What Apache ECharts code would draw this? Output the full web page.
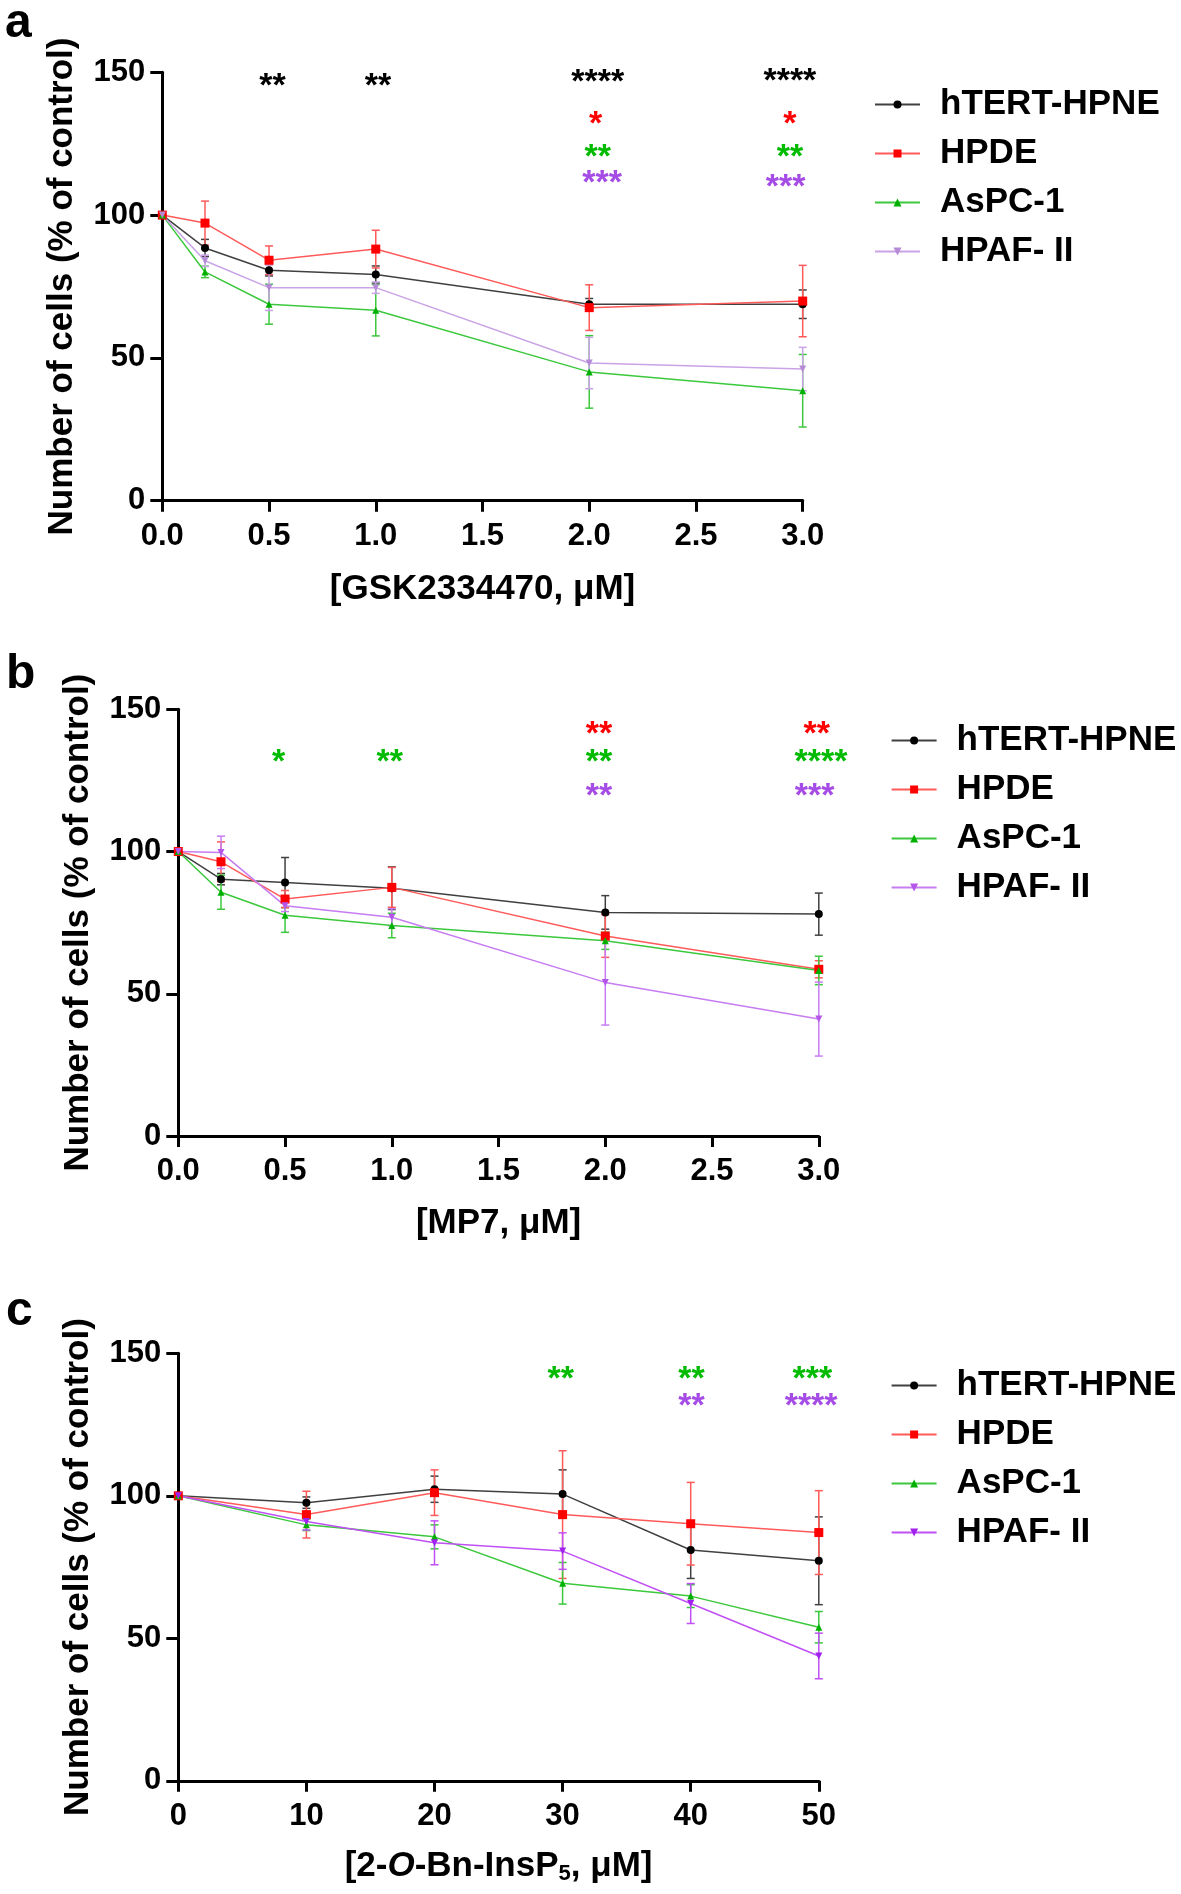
<!DOCTYPE html>
<html>
<head>
<meta charset="utf-8">
<script src="https://cdn.jsdelivr.net/npm/echarts@6/dist/echarts.min.js"></script>
<style>
html,body{margin:0;padding:0;background:#fff;}
#wrap{position:relative;width:1181px;height:1894px;}
.panel{position:absolute;left:0;width:1181px;}
</style>
</head>
<body>
<div id="wrap">
  <div id="pa" class="panel" style="top:0;height:620px"></div>
  <div id="pb" class="panel" style="top:620px;height:640px"></div>
  <div id="pc" class="panel" style="top:1260px;height:634px"></div>
</div>
<script>
// ---------- DATA ----------
const seriesNames = ['hTERT-HPNE', 'HPDE', 'AsPC-1', 'HPAF- II'];

// Panel a : GSK2334470
const xA = [0, 0.2, 0.5, 1, 2, 3];
const a_hTERT = [100, 88.5, 80.7, 79.2, 68.8, 68.8];
const a_hTERT_err = [0, 3, 2, 3, 2, 5];
const a_HPDE = [100, 97.2, 84.2, 88.1, 67.6, 69.9];
const a_HPDE_err = [0, 7.7, 5, 6.6, 8, 12.5];
const a_AsPC = [100, 80.1, 68.8, 66.7, 45.1, 38.5];
const a_AsPC_err = [0, 2, 7, 9, 12.7, 12.7];
const a_HPAF = [100, 84, 74.6, 74.6, 48.2, 46.1];
const a_HPAF_err = [0, 2, 8, 2, 9, 7.6];
const a_stars = [
  [0.516, 148, '**', 'k'], [1.01, 148, '**', 'k'], [2.04, 149.5, '****', 'k'], [2.94, 150, '****', 'k'],
  [2.03, 134.7, '*', 'r'], [2.94, 135, '*', 'r'],
  [2.04, 123.2, '**', 'g'], [2.94, 123.2, '**', 'g'],
  [2.06, 114.2, '***', 'p'], [2.92, 112.9, '***', 'p']
];

// Panel b : MP7
const xB = [0, 0.2, 0.5, 1, 2, 3];
const b_hTERT = [100, 90.3, 89.1, 87.1, 78.6, 78];
const b_hTERT_err = [0, 2, 8.8, 7.5, 5.9, 7.4];
const b_HPDE = [100, 96.4, 83.3, 87.4, 70.3, 58.6];
const b_HPDE_err = [0, 7, 3, 7, 7.5, 3];
const b_AsPC = [100, 85.7, 77.6, 74, 68.6, 58.2];
const b_AsPC_err = [0, 6, 6, 4.3, 3, 5];
const b_HPAF = [100, 99.7, 80.9, 76.9, 54, 41.1];
const b_HPAF_err = [0, 5.7, 2, 3, 15, 13];
const b_stars = [
  [0.47, 134.3, '*', 'g'], [0.99, 134.3, '**', 'g'],
  [1.97, 144.3, '**', 'r'], [1.97, 134.3, '**', 'g'], [1.97, 122.6, '**', 'p'],
  [2.99, 144.3, '**', 'r'], [3.01, 134.3, '****', 'g'], [2.98, 122.6, '***', 'p']
];

// Panel c : 2-O-Bn-InsP5
const xC = [0, 10, 20, 30, 40, 50];
const c_hTERT = [100, 97.6, 102.3, 100.6, 81, 77.2];
const c_hTERT_err = [0, 2, 4.6, 8.5, 10, 15.4];
const c_HPDE = [100, 93.4, 101.1, 93.4, 90.2, 87.1];
const c_HPDE_err = [0, 8.2, 8, 22.4, 14.5, 14.7];
const c_AsPC = [100, 89.8, 85.6, 69.3, 64.8, 53.9];
const c_AsPC_err = [0, 2, 4.2, 7.3, 4, 5.5];
const c_HPAF = [100, 91, 83.5, 80.6, 62.2, 43.8];
const c_HPAF_err = [0, 3, 7.7, 6.4, 7, 8];
const c_stars = [
  [29.85, 144, '**', 'g'],
  [40.07, 144, '**', 'g'], [40.07, 134.4, '**', 'p'],
  [49.5, 144, '***', 'g'], [49.4, 134.4, '****', 'p']
];

const yTicks = [0, 50, 100, 150];

// ---------- STYLE ----------
const FONT = "'Liberation Sans', Arial, sans-serif";
const starColors = { k: '#000000', r: '#ff0000', g: '#00bb00', p: '#a64ce6' };

function zip(xs, ys, es) { return xs.map((x, i) => [x, ys[i], es ? es[i] : 0]); }

function errSeries(data, color) {
  return {
    type: 'custom', silent: true, z: 1,
    data: data,
    renderItem: function (params, api) {
      const x = api.value(0), y = api.value(1), e = api.value(2);
      if (!e) return null;
      const t = api.coord([x, y + e]);
      const b = api.coord([x, y - e]);
      const cw = 4;
      const st = { stroke: color, lineWidth: 1.5 };
      return {
        type: 'group', children: [
          { type: 'line', shape: { x1: t[0], y1: t[1], x2: b[0], y2: b[1] }, style: st },
          { type: 'line', shape: { x1: t[0] - cw, y1: t[1], x2: t[0] + cw, y2: t[1] }, style: st },
          { type: 'line', shape: { x1: b[0] - cw, y1: b[1], x2: b[0] + cw, y2: b[1] }, style: st }
        ]
      };
    }
  };
}

function starSeries(stars) {
  return {
    type: 'custom', silent: true, z: 5,
    data: stars.map(s => [s[0], s[1]]),
    renderItem: function (params, api) {
      const s = stars[params.dataIndex];
      const p = api.coord([s[0], s[1]]);
      return {
        type: 'text',
        x: p[0], y: p[1] + 9,
        style: {
          text: s[2], fill: starColors[s[3]],
          font: 'bold 34px ' + FONT, align: 'center', verticalAlign: 'middle'
        }
      };
    }
  };
}

function lineSeries(name, xs, ys, symbol, size, lineColor, markColor, rotate) {
  return {
    type: 'line', name: name, z: 3,
    data: zip(xs, ys),
    symbol: symbol, symbolSize: size, symbolRotate: rotate || 0,
    showAllSymbol: true,
    lineStyle: { color: lineColor, width: 1.5 },
    itemStyle: { color: markColor },
    emphasis: { disabled: true }
  };
}

function buildOption(cfg) {
  const colors = cfg.colors;
  return {
    animation: false,
    title: {
      text: cfg.letter, left: cfg.letterLeft, top: cfg.letterTop,
      textStyle: { fontSize: 48, fontWeight: 'bold', fontFamily: FONT, color: '#000' }
    },
    grid: { left: cfg.grid[0], top: cfg.grid[1], width: cfg.grid[2], height: cfg.grid[3], containLabel: false },
    legend: {
      orient: 'vertical', left: cfg.legend[0], top: cfg.legend[1],
      itemWidth: 45, itemHeight: 10, itemGap: 0,
      data: seriesNames,
      textStyle: { fontSize: 35, fontWeight: 'bold', fontFamily: FONT, color: '#000', lineHeight: 49, padding: [0, 0, 0, 15] }
    },
    xAxis: {
      type: 'value', min: 0, max: cfg.xMax, interval: cfg.xInterval,
      name: cfg.xName, nameLocation: 'middle', nameGap: cfg.xNameGap,
      nameTextStyle: Object.assign({ fontSize: 35, fontWeight: 'bold', fontFamily: FONT, color: '#000' }, cfg.xNameRich ? { rich: cfg.xNameRich } : {}),
      axisLine: { show: true, onZero: false, lineStyle: { color: '#000', width: 3 } },
      axisTick: { show: true, length: 11, lineStyle: { color: '#000', width: 3 } },
      axisLabel: { fontSize: 31, fontWeight: 'bold', fontFamily: FONT, color: '#000', margin: 20, formatter: cfg.xFmt },
      splitLine: { show: false }
    },
    yAxis: {
      type: 'value', min: yTicks[0], max: yTicks[yTicks.length - 1], interval: yTicks[1] - yTicks[0],
      name: 'Number of cells (% of control)', nameLocation: 'middle', nameGap: 82,
      nameTextStyle: { fontSize: 35, fontWeight: 'bold', fontFamily: FONT, color: '#000' },
      axisLine: { show: true, onZero: false, lineStyle: { color: '#000', width: 3 } },
      axisTick: { show: true, length: 12, lineStyle: { color: '#000', width: 3 } },
      axisLabel: { fontSize: 31, fontWeight: 'bold', fontFamily: FONT, color: '#000', margin: 17 },
      splitLine: { show: false }
    },
    series: [
      errSeries(zip(cfg.x, cfg.d[0], cfg.e[0]), colors.kLine),
      errSeries(zip(cfg.x, cfg.d[1], cfg.e[1]), colors.rLine),
      errSeries(zip(cfg.x, cfg.d[2], cfg.e[2]), colors.gLine),
      errSeries(zip(cfg.x, cfg.d[3], cfg.e[3]), colors.pLine),
      lineSeries(seriesNames[0], cfg.x, cfg.d[0], 'circle', 8, colors.kLine, '#000000'),
      lineSeries(seriesNames[1], cfg.x, cfg.d[1], 'rect', 9, colors.rLine, '#ff0000'),
      lineSeries(seriesNames[2], cfg.x, cfg.d[2], 'triangle', 7, colors.gLine, '#00b000'),
      lineSeries(seriesNames[3], cfg.x, cfg.d[3], 'triangle', 7, colors.pLine, colors.pMark, 180),
      starSeries(cfg.stars)
    ]
  };
}

const fmt1 = v => v.toFixed(1);
const fmt0 = v => String(v);

const optA = buildOption({
  letter: 'a', letterLeft: 0, letterTop: -5,
  grid: [162.3, 72.3, 640.4, 428.4], legend: [869, 75],
  x: xA, d: [a_hTERT, a_HPDE, a_AsPC, a_HPAF], e: [a_hTERT_err, a_HPDE_err, a_AsPC_err, a_HPAF_err],
  xMax: 3, xInterval: 0.5, xFmt: fmt1, xName: '[GSK2334470, μM]', xNameGap: 71,
  colors: { kLine: '#404040', rLine: '#ff5a5a', gLine: '#3cc83c', pLine: '#c9a3e6', pMark: '#b58ad6' },
  stars: a_stars
});
const optB = buildOption({
  letter: 'b', letterLeft: 1, letterTop: 26,
  grid: [178.3, 89.3, 640.5, 426.7], legend: [885.6, 91],
  x: xB, d: [b_hTERT, b_HPDE, b_AsPC, b_HPAF], e: [b_hTERT_err, b_HPDE_err, b_AsPC_err, b_HPAF_err],
  xMax: 3, xInterval: 0.5, xFmt: fmt1, xName: '[MP7, μM]', xNameGap: 70,
  colors: { kLine: '#404040', rLine: '#ff5a5a', gLine: '#3cc83c', pLine: '#c77cf2', pMark: '#b455ea' },
  stars: b_stars
});
const optC = buildOption({
  letter: 'c', letterLeft: 1, letterTop: 23,
  grid: [178.3, 93.3, 640.5, 427.5], legend: [885.6, 96],
  x: xC, d: [c_hTERT, c_HPDE, c_AsPC, c_HPAF], e: [c_hTERT_err, c_HPDE_err, c_AsPC_err, c_HPAF_err],
  xMax: 50, xInterval: 10, xFmt: fmt0, xName: '[2-{i|O}-Bn-InsP{sub|5}, μM]', xNameGap: 68,
  xNameRich: {
    i: { fontSize: 35, fontWeight: 'bold', fontStyle: 'italic', fontFamily: FONT, color: '#000' },
    sub: { fontSize: 22, fontWeight: 'bold', fontFamily: FONT, color: '#000', verticalAlign: 'bottom', padding: [14, 0, 0, 0] }
  },
  colors: { kLine: '#404040', rLine: '#ff5a5a', gLine: '#3cc83c', pLine: '#c050f5', pMark: '#a020f0' },
  stars: c_stars
});

echarts.init(document.getElementById('pa'), null, { renderer: 'canvas' }).setOption(optA);
echarts.init(document.getElementById('pb'), null, { renderer: 'canvas' }).setOption(optB);
echarts.init(document.getElementById('pc'), null, { renderer: 'canvas' }).setOption(optC);
</script>
</body>
</html>
